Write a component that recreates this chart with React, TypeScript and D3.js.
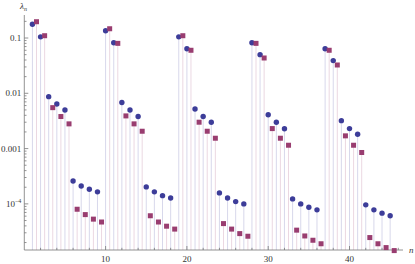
import React from "react";
import * as d3 from "d3";

// circle series, n = 1..45
const circleValues = [
  0.177, 0.105, 0.0087, 0.0064, 0.005, 2.6e-4, 2.1e-4, 1.84e-4, 1.65e-4,
  0.135, 0.082, 0.0068, 0.005, 0.0038, 2.03e-4, 1.65e-4, 1.41e-4, 1.28e-4,
  0.105, 0.064, 0.0052, 0.0038, 0.003, 1.58e-4, 1.28e-4, 1.1e-4, 1.0e-4,
  0.082, 0.05, 0.0041, 0.003, 0.00228, 1.23e-4, 1.0e-4, 8.7e-5, 7.8e-5,
  0.064, 0.039, 0.0032, 0.0023, 0.00182, 9.6e-5, 7.8e-5, 6.8e-5, 6.1e-5,
];

// square series, n = 1.5..45.5
const squareValues = [
  0.197, 0.11, 0.0055, 0.0038, 0.0028, 8.0e-5, 6.4e-5, 5.3e-5, 4.7e-5,
  0.147, 0.08, 0.0039, 0.0028, 0.00206, 6.1e-5, 4.7e-5, 3.95e-5, 3.5e-5,
  0.11, 0.06, 0.003, 0.00206, 0.00154, 4.4e-5, 3.5e-5, 2.9e-5, 2.6e-5,
  0.08, 0.0435, 0.0023, 0.00154, 0.00115, 3.35e-5, 2.63e-5, 2.2e-5, 1.9e-5,
  0.06, 0.0325, 0.0017, 0.00115, 0.00085, 2.46e-5, 1.9e-5, 1.62e-5, 1.43e-5,
];

const xTickLabels = [10, 20, 30, 40];
const yTickLabels = [
  { v: 0.1, t: "0.1" },
  { v: 0.01, t: "0.01" },
  { v: 0.001, t: "0.001" },
  { v: 1e-4, t: "10", sup: "\u22124" },
];

const blue = "#3d3d99";
const pink = "#993d70";
const axisCol = "#777";
const font = "Liberation Serif, serif";

export default function App() {
  const width = 415;
  const height = 264;

  const x = d3.scaleLinear().domain([0, 46.58]).range([24.3, 403]);
  const y = d3
    .scaleLog()
    .domain([Math.pow(10, -4.834), Math.pow(10, -0.584)])
    .range([250, 15]);

  const y0 = y.range()[0];
  const x0 = x.range()[0];

  const circles = circleValues.map((v, i) => ({ n: i + 1, v }));
  const squares = squareValues.map((v, i) => ({ n: i + 1.5, v }));

  // minor ticks on the log axis
  const yMinor: number[] = [];
  for (let e = -5; e <= -1; e++) {
    for (let k = 2; k <= 9; k++) {
      const v = k * Math.pow(10, e);
      if (v >= y.domain()[0] && v <= y.domain()[1]) yMinor.push(v);
    }
  }
  const xMinor = d3.range(2, 47, 2).filter((d) => d % 10 !== 0);

  return (
    <svg
      width={width}
      height={height}
      style={{ position: "absolute", left: 0, top: 0, background: "#fff" }}
      fontFamily={font}
    >
      {/* fillings */}
      <g strokeWidth={1}>
        {circles.map((d) => (
          <line
            key={"lc" + d.n}
            x1={x(d.n)}
            x2={x(d.n)}
            y1={y0}
            y2={y(d.v)}
            stroke={blue}
            strokeOpacity={0.2}
          />
        ))}
        {squares.map((d) => (
          <line
            key={"ls" + d.n}
            x1={x(d.n)}
            x2={x(d.n)}
            y1={y0}
            y2={Math.min(y(d.v), y0)}
            stroke={pink}
            strokeOpacity={0.2}
          />
        ))}
      </g>

      {/* axes */}
      <g stroke={axisCol} strokeWidth={0.8}>
        <line x1={x0} x2={x0} y1={y0} y2={y.range()[1]} />
        <line x1={x0} x2={x.range()[1]} y1={y0} y2={y0} />
        {yTickLabels.map((d) => (
          <line key={"ym" + d.t} x1={x0} x2={x0 + 4} y1={y(d.v)} y2={y(d.v)} />
        ))}
        {yMinor.map((v) => (
          <line key={"yn" + v} x1={x0} x2={x0 + 2.2} y1={y(v)} y2={y(v)} />
        ))}
        {xTickLabels.map((t) => (
          <line key={"xm" + t} x1={x(t)} x2={x(t)} y1={y0} y2={y0 - 4} />
        ))}
        {xMinor.map((t) => (
          <line key={"xn" + t} x1={x(t)} x2={x(t)} y1={y0} y2={y0 - 2.2} />
        ))}
      </g>

      {/* tick labels */}
      <g fontSize={9} fill="#333">
        {yTickLabels.map((d) => (
          <text
            key={"yt" + d.t}
            x={x0 - 3}
            y={y(d.v)}
            dy="0.33em"
            textAnchor="end"
          >
            {d.t}
            {d.sup ? (
              <tspan fontSize={6} dy="-0.6em">
                {d.sup}
              </tspan>
            ) : null}
          </text>
        ))}
        {xTickLabels.map((t) => (
          <text key={"xt" + t} x={x(t)} y={y0 + 12} textAnchor="middle">
            {t}
          </text>
        ))}
        <text x={409} y={y0 + 3} fontStyle="italic">
          n
        </text>
        <text x={20} y={9} fontStyle="italic">
          λ
          <tspan fontSize={6} dy="2">
            n
          </tspan>
        </text>
      </g>

      {/* points */}
      <g fill={blue}>
        {circles.map((d) => (
          <circle key={"c" + d.n} cx={x(d.n)} cy={y(d.v)} r={2.7} />
        ))}
      </g>
      <g fill={pink}>
        {squares.map((d) => (
          <rect
            key={"s" + d.n}
            x={x(d.n) - 2.5}
            y={y(d.v) - 2.5}
            width={5}
            height={5}
          />
        ))}
      </g>
    </svg>
  );
}
